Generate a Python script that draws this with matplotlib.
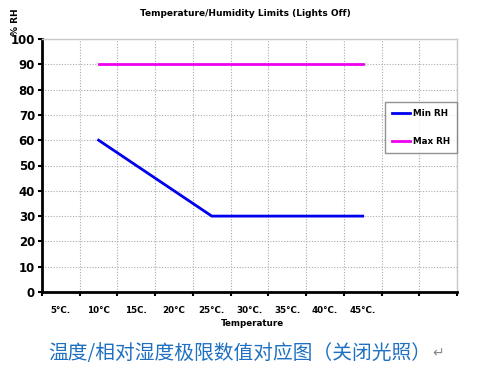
import numpy as np
import matplotlib
matplotlib.use("Agg")
import matplotlib.pyplot as plt

categories = ["5°C.", "10°C", "15C.", "20°C", "25°C.", "30°C.", "35°C.", "40°C.", "45°C.", "", ""]
min_rh = [np.nan, 60, 50, 40, 30, 30, 30, 30, 30, np.nan, np.nan]
max_rh = [np.nan, 90, 90, 90, 90, 90, 90, 90, 90, np.nan, np.nan]
y_ticks = [0, 10, 20, 30, 40, 50, 60, 70, 80, 90, 100]

title = "Temperature/Humidity Limits (Lights Off)"
xlabel = "Temperature"
ylabel = "% RH"
caption = "温度/相对湿度极限数值对应图（关闭光照）"

fig = plt.figure(figsize=(4.78, 3.69), dpi=100)
ax = fig.add_axes([42/478, 1-292/369, (457-42)/478, (292-39)/369])

x = np.arange(len(categories))
ax.plot(x, min_rh, color="#0000ee", lw=2.0, label="Min RH")
ax.plot(x, max_rh, color="#ee00ee", lw=2.0, label="Max RH")

ax.set_xlim(-0.5, len(categories) - 0.5)
ax.set_ylim(0, 100)
ax.set_yticks(y_ticks)
ax.set_yticklabels([str(v) for v in y_ticks], fontsize=8.5, fontweight="bold")

ax.set_xticks(np.arange(-0.5, len(categories), 1.0))
ax.set_xticklabels([])
ax.set_xticks(x, minor=True)
ax.set_xticklabels(categories, minor=True, fontsize=6.3, fontweight="bold")
ax.tick_params(axis="x", which="minor", length=0, pad=10)
ax.tick_params(axis="x", which="major", length=3, width=1.5, direction="out")
ax.tick_params(axis="y", length=3, width=1.5, direction="out", pad=2)

ax.grid(True, which="major", color="#aaaaaa", linestyle=(0, (1, 1.5)), lw=0.8)
for s in ["left", "bottom"]:
    ax.spines[s].set_linewidth(2.0)
    ax.spines[s].set_color("black")
for s in ["top", "right"]:
    ax.spines[s].set_color("#c8c8c8")
    ax.spines[s].set_linewidth(1.0)

leg = ax.legend(loc="upper left", bbox_to_anchor=((385-42)/415, 1-(102-39)/253),
                prop={"size": 6.3, "weight": "bold"}, frameon=True, fancybox=False,
                edgecolor="#777777", handlelength=2.0, labelspacing=2.1,
                borderpad=0.85, handletextpad=0.3, borderaxespad=0.0)
leg.get_frame().set_linewidth(1.0)

fig.text(245/478, 1-14/369, title, ha="center", va="center", fontsize=6.5, fontweight="bold")
fig.text(252/478, 1-323/369, xlabel, ha="center", va="center", fontsize=6.3, fontweight="bold")
fig.text(15/478, 1-22/369, ylabel, ha="center", va="center", rotation=90, fontsize=6.5, fontweight="bold")
fig.text(48/478, 1-353/369, caption, ha="left", va="center", fontsize=14.2,
         color="#1f70c1", family=["Noto Sans CJK SC", "DejaVu Sans"])
fig.text(438/478, 1-353/369, "↵", ha="center", va="center", fontsize=10,
         color="#888888", family=["DejaVu Sans"])

fig.savefig("out.png", dpi=100)
